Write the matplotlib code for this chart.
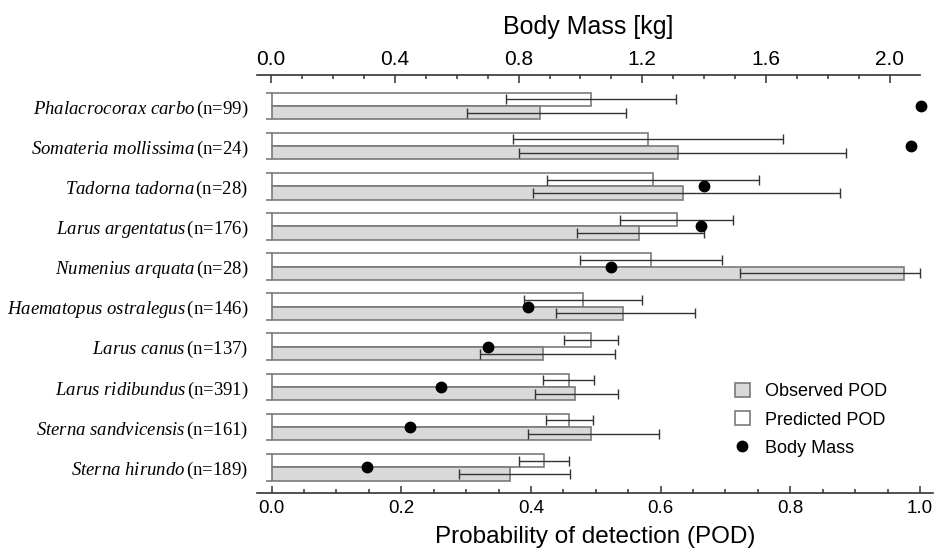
import matplotlib.pyplot as plt
from matplotlib.patches import Patch
from matplotlib.lines import Line2D
import numpy as np

species = ["Phalacrocorax carbo", "Somateria mollissima", "Tadorna tadorna",
           "Larus argentatus", "Numenius arquata", "Haematopus ostralegus",
           "Larus canus", "Larus ridibundus", "Sterna sandvicensis", "Sterna hirundo"]
n_obs = [99, 24, 28, 176, 28, 146, 137, 391, 161, 189]

observed = [0.414, 0.626, 0.634, 0.567, 0.976, 0.542, 0.419, 0.468, 0.492, 0.368]
observed_lo = [0.301, 0.381, 0.403, 0.471, 0.723, 0.439, 0.321, 0.407, 0.396, 0.289]
observed_hi = [0.546, 0.886, 0.876, 0.667, 1.000, 0.653, 0.530, 0.534, 0.597, 0.460]

predicted = [0.493, 0.581, 0.588, 0.625, 0.585, 0.481, 0.493, 0.458, 0.459, 0.420]
predicted_lo = [0.361, 0.373, 0.425, 0.537, 0.475, 0.389, 0.451, 0.418, 0.423, 0.381]
predicted_hi = [0.624, 0.789, 0.751, 0.712, 0.695, 0.572, 0.535, 0.497, 0.495, 0.459]

body_mass = [2.10, 2.07, 1.40, 1.39, 1.10, 0.83, 0.70, 0.55, 0.45, 0.31]

plt.rcParams['font.family'] = ['Liberation Sans', 'DejaVu Sans']
plt.rcParams['mathtext.fontset'] = 'custom'
plt.rcParams['mathtext.rm'] = 'Liberation Serif'
plt.rcParams['mathtext.it'] = 'Liberation Serif:italic'

W, H = 936, 551
fig = plt.figure(figsize=(W / 100, H / 100), dpi=100)

def box(x0, y0, x1, y1):
    return [x0 / W, 1 - y1 / H, (x1 - x0) / W, (y1 - y0) / H]

ax = fig.add_axes(box(257.3, 75, 933, 493.3))
ax_top = fig.add_axes(box(257.3, 75, 920, 493.3), facecolor='none')

edge = '#7a7a7a'
fill = '#d9d9d9'
dark = '#333333'
y = np.arange(len(species))
h = 0.333

pred = np.array(predicted)
obs = np.array(observed)
ax.barh(y - h / 2, pred, height=h, color='white', edgecolor=edge, lw=1.2)
ax.barh(y + h / 2, obs, height=h, color=fill, edgecolor=edge, lw=1.2)
ax.errorbar(pred, y - h / 2, xerr=[pred - np.array(predicted_lo), np.array(predicted_hi) - pred],
            fmt='none', ecolor=dark, elinewidth=1, capsize=3.5, capthick=1)
ax.errorbar(obs, y + h / 2, xerr=[obs - np.array(observed_lo), np.array(observed_hi) - obs],
            fmt='none', ecolor=dark, elinewidth=1, capsize=3.5, capthick=1)
# small ticks at the top and bottom of each species group
ax.hlines(np.concatenate([y - h, y + h]), -0.0093, 0, color=edge, lw=1.2)

ylims = (9.649, -0.772)
ax.set_ylim(ylims)
ax.set_xlim(-0.022, 1.02)
ax.set_xticks(np.arange(0, 1.01, 0.2))
ax.set_xticks(np.arange(0, 1.01, 0.05), minor=True)
ax.set_xticklabels([f"{v:.1f}" for v in np.arange(0, 1.01, 0.2)])
ax.tick_params(axis='x', which='major', direction='in', length=5, width=1.1, color=dark,
               labelsize=13.5, pad=5)
ax.tick_params(axis='x', which='minor', direction='in', length=3, width=1.1, color=dark)
ax.set_yticks(y)
ax.set_yticklabels([rf"$\mathit{{{s.replace(' ', chr(92) + ' ')}}}\,$(n={n})"
                    for s, n in zip(species, n_obs)],
                   family='Liberation Serif', fontsize=13.5)
ax.tick_params(axis='y', length=0, pad=6.5)
for side in ['top', 'left', 'right']:
    ax.spines[side].set_visible(False)
ax.spines['bottom'].set_color(dark)
ax.spines['bottom'].set_linewidth(1.2)
ax.set_xlabel("Probability of detection (POD)", fontsize=17.5, labelpad=6)

ax_top.plot(body_mass, y, 'o', color='black', ms=7.5, clip_on=False)
ax_top.set_ylim(ylims)
ax_top.set_xlim(-0.045, 2.098)
ax_top.xaxis.tick_top()
ax_top.xaxis.set_label_position('top')
ax_top.set_xticks(np.arange(0, 2.01, 0.4))
ax_top.set_xticks(np.arange(0, 2.01, 0.1), minor=True)
ax_top.set_xticklabels([f"{v:.1f}" for v in np.arange(0, 2.01, 0.4)])
ax_top.tick_params(axis='x', which='major', direction='in', length=6, width=1.1, color=dark,
                   labelsize=15, pad=4)
ax_top.tick_params(axis='x', which='minor', direction='in', length=3, width=1.1, color=dark)
ax_top.set_yticks([])
for side in ['bottom', 'left', 'right']:
    ax_top.spines[side].set_visible(False)
ax_top.spines['top'].set_color(dark)
ax_top.spines['top'].set_linewidth(1.2)
ax_top.set_xlabel("Body Mass [kg]", fontsize=18, labelpad=11.5)

handles = [Patch(facecolor=fill, edgecolor=edge, lw=1.2),
           Patch(facecolor='white', edgecolor=edge, lw=1.2),
           Line2D([], [], marker='o', ls='none', color='black', ms=7.5)]
fig.legend(handles, ["Observed POD", "Predicted POD", "Body Mass"],
           loc='upper left', bbox_to_anchor=(735 / W, 1 - 383 / H), frameon=False,
           fontsize=13, borderpad=0, borderaxespad=0, handlelength=0.83,
           handleheight=0.83, handletextpad=0.83, labelspacing=0.6)

fig.savefig("out.png", dpi=100)
